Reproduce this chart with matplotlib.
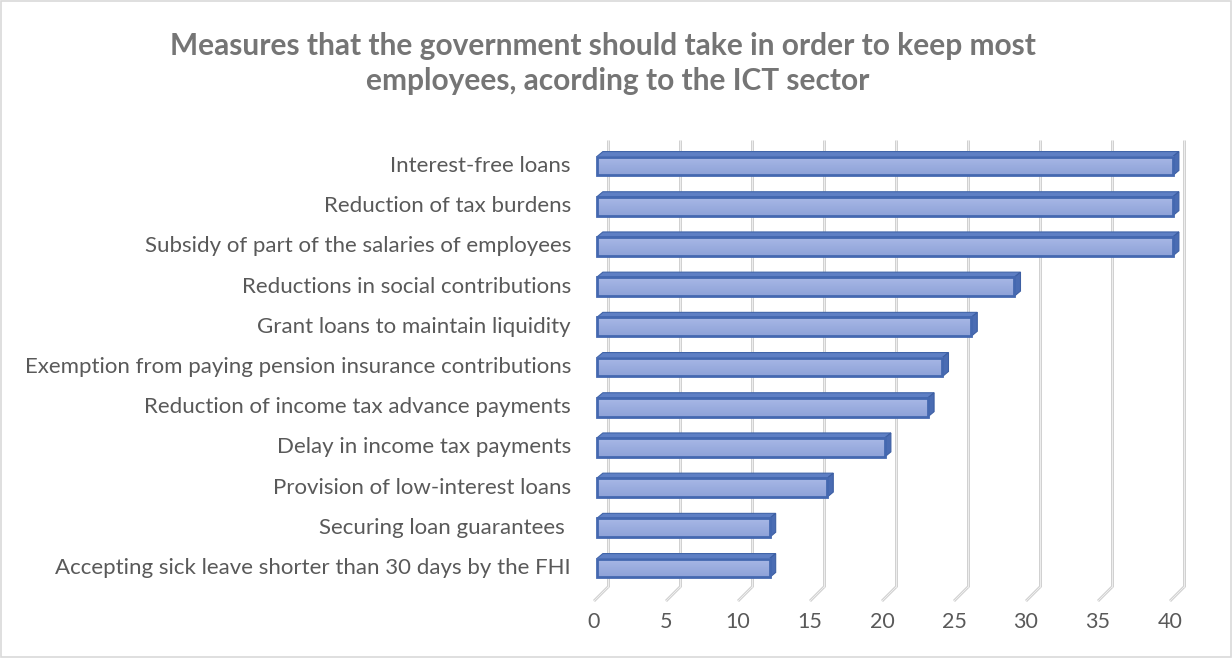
import numpy as np
import matplotlib
matplotlib.use("Agg")
from matplotlib import pyplot as plt
from matplotlib.patches import Polygon, Rectangle
from matplotlib.colors import LinearSegmentedColormap

plt.rcParams['font.family'] = ['Lato', 'DejaVu Sans']

measures = ["Interest-free loans",
            "Reduction of tax burdens",
            "Subsidy of part of the salaries of employees",
            "Reductions in social contributions",
            "Grant loans to maintain liquidity",
            "Exemption from paying pension insurance contributions",
            "Reduction of income tax advance payments",
            "Delay in income tax payments",
            "Provision of low-interest loans",
            "Securing loan guarantees ",
            "Accepting sick leave shorter than 30 days by the FHI"]
counts = [40, 40, 40, 29, 26, 24, 23, 20, 16, 12, 12]
ticks = [0, 5, 10, 15, 20, 25, 30, 35, 40]

W, H = 1232, 658
fig = plt.figure(figsize=(W / 100, H / 100), dpi=100)
fig.patches.append(Rectangle((0.001, 0.001), 0.998, 0.997, transform=fig.transFigure,
                             fill=False, edgecolor="#d9d9d9", lw=1.2))

# axes: x=0 at px 594, x=40 at px 1170; row i centre at px 166 + 40.2*i
px_per_unit = 14.4
row_px = 40.2
top_px, bot_px = 130, 612
ax = fig.add_axes([594 / W, 1 - bot_px / H, 40 * px_per_unit / W, (bot_px - top_px) / H])
ax.axis("off")

# back wall offset for the 3d floor/grid
gdx = 14 / px_per_unit
gdy = -14 / row_px
floor_front = (601 - 166) / row_px
grid_top = (140 - 166) / row_px
for t in ticks:
    for xs, ys in [([t + gdx, t + gdx], [floor_front + gdy, grid_top]),
                   ([t, t + gdx], [floor_front, floor_front + gdy])]:
        ax.plot(xs, ys, color="#cccccc", lw=2.0, solid_capstyle="butt", zorder=1, clip_on=False)
        ax.plot(xs, ys, color="#f4f4f4", lw=0.6, zorder=1, clip_on=False)
    ax.text(t, (622 - 166) / row_px, str(t), ha="center", va="center", fontsize=15.5,
            color="#595959")

# 3d-looking bars
x0 = 0.2
bh = 0.47
ddx = 6 / px_per_unit
ddy = -5 / row_px
cmap = LinearSegmentedColormap.from_list("b", ["#a8b8e6", "#8ea2d8"])
grad = np.linspace(0, 1, 50).reshape(-1, 1)
for i, (name, v) in enumerate(zip(measures, counts)):
    ytop = i - bh / 2
    ybot = i + bh / 2
    ax.add_patch(Polygon([[x0, ytop], [x0 + v, ytop], [x0 + v + ddx, ytop + ddy], [x0 + ddx, ytop + ddy]],
                         closed=True, facecolor="#5e7fc4", edgecolor="#4064a8", lw=0.8, zorder=3,
                         clip_on=False))
    ax.add_patch(Polygon([[x0 + v, ytop], [x0 + v + ddx, ytop + ddy], [x0 + v + ddx, ybot + ddy], [x0 + v, ybot]],
                         closed=True, facecolor="#4a6cb3", edgecolor="#3d5fa3", lw=0.8, zorder=3,
                         clip_on=False))
    ax.imshow(grad, cmap=cmap, extent=[x0, x0 + v, ybot, ytop], aspect="auto", zorder=4,
              clip_on=False)
    ax.add_patch(Rectangle((x0, ytop), v, bh, fill=False, edgecolor="#4468b0", lw=2.0, zorder=5,
                           clip_on=False))
    ax.text(-1.6, i, name, ha="right", va="center", fontsize=16, color="#595959")

ax.set_xlim(0, 40)
ax.set_ylim((bot_px - 166) / row_px, (top_px - 166) / row_px)

fig.text(603 / W, 1 - 46 / H, "Measures that the government should take in order to keep most",
         ha="center", va="center", fontsize=21.5, fontweight="bold", color="#757575")
fig.text(618 / W, 1 - 81 / H, "employees, acording to the ICT sector",
         ha="center", va="center", fontsize=21.5, fontweight="bold", color="#757575")

fig.savefig("out.png", dpi=100)
